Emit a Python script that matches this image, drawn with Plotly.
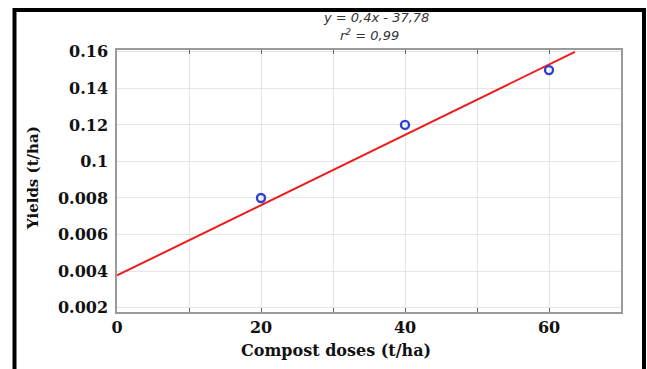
import numpy as np
import plotly.graph_objects as go

# ---- data ----
doses = [20, 40, 60]                       # Compost doses (t/ha)
yields = [0.008, 0.12, 0.15]               # Yields (t/ha)
ytick_labels = ["0.002", "0.004", "0.006", "0.008", "0.1", "0.12", "0.14", "0.16"]
ytick_values = [0.002, 0.004, 0.006, 0.008, 0.1, 0.12, 0.14, 0.16]
xtick_values = [0, 10, 20, 30, 40, 50, 60, 70]
xtick_labels = ["0", "", "20", "", "40", "", "60", ""]
trend_x = [0, 63.6]                        # regression line end points
trend_yield = [0.00376, 0.16]
equation = "y = 0,4x - 37,78"
r2_text = "r<sup>2</sup> = 0,99"

# the axis places its labels evenly: map values onto label positions
ypos = list(range(len(ytick_values)))
def to_axis(v):
    return np.interp(v, ytick_values, ypos)

fig = go.Figure()
fig.add_trace(go.Scatter(
    x=trend_x, y=to_axis(trend_yield), mode="lines",
    line=dict(color="#ee1c1c", width=2), showlegend=False, hoverinfo="skip"))
fig.add_trace(go.Scatter(
    x=doses, y=to_axis(yields), mode="markers",
    marker=dict(symbol="circle-open", size=8, color="#2f3fd0", line=dict(width=2.4)),
    showlegend=False))

SERIF = "DejaVu Serif"
tickfont = dict(family=SERIF, size=16, color="#111111", weight="bold")
fig.update_xaxes(
    range=[0, 70], tickvals=xtick_values, ticktext=xtick_labels,
    showgrid=True, gridcolor="#e6e6e6", gridwidth=1, zeroline=False,
    showline=True, linecolor="#9a9a9a", linewidth=1.5, mirror="ticks",
    ticks="inside", ticklen=4, tickcolor="#666666",
    tickfont=tickfont, ticklabelstandoff=0)
fig.update_yaxes(
    range=[-0.12, 7.05], tickvals=ypos, ticktext=ytick_labels,
    showgrid=True, gridcolor="#e6e6e6", gridwidth=1, zeroline=False,
    showline=True, linecolor="#9a9a9a", linewidth=1.5, mirror=True,
    ticks="", tickfont=tickfont, ticklabelstandoff=4)

eqfont = dict(family="DejaVu Sans", size=13, color="#333333")
annotations = [
    dict(text="<b>Compost doses (t/ha)</b>", x=336, y=350,
         font=dict(family=SERIF, size=16, color="#111111")),
    dict(text="<b>Yields (t/ha)</b>", x=33, y=178, textangle=-90,
         font=dict(family=SERIF, size=15, color="#111111")),
    dict(text="<i>" + equation + "</i>", x=376, y=17, font=eqfont),
    dict(text="<i>" + r2_text + "</i>", x=369, y=35, font=eqfont),
]
W, H = 647, 369
L, R, T, B = 117, 26, 50, 57
pw, ph = W - L - R, H - T - B
def px2paper(x, y):
    return (x - L) / pw, (H - B - y) / ph
ann_list = []
for a in annotations:
    px, py = px2paper(a["x"], a["y"])
    d = dict(text=a["text"], x=px, y=py, xref="paper", yref="paper",
             showarrow=False, xanchor="center", yanchor="middle", font=a["font"])
    if "textangle" in a:
        d["textangle"] = a["textangle"]
    ann_list.append(d)

x0, y0 = px2paper(14.5, 10)
x1, y1 = px2paper(644, 380)
fig.update_layout(
    width=W, height=H, margin=dict(l=L, r=R, t=T, b=B),
    plot_bgcolor="white", paper_bgcolor="white",
    annotations=ann_list,
    shapes=[dict(type="rect", xref="paper", yref="paper", x0=x0, y0=y1, x1=x1, y1=y0,
                 line=dict(color="black", width=4), layer="above")],
)
fig.write_html("out.html", config={"displayModeBar": False},
               post_script="document.body.style.margin='0px';")
